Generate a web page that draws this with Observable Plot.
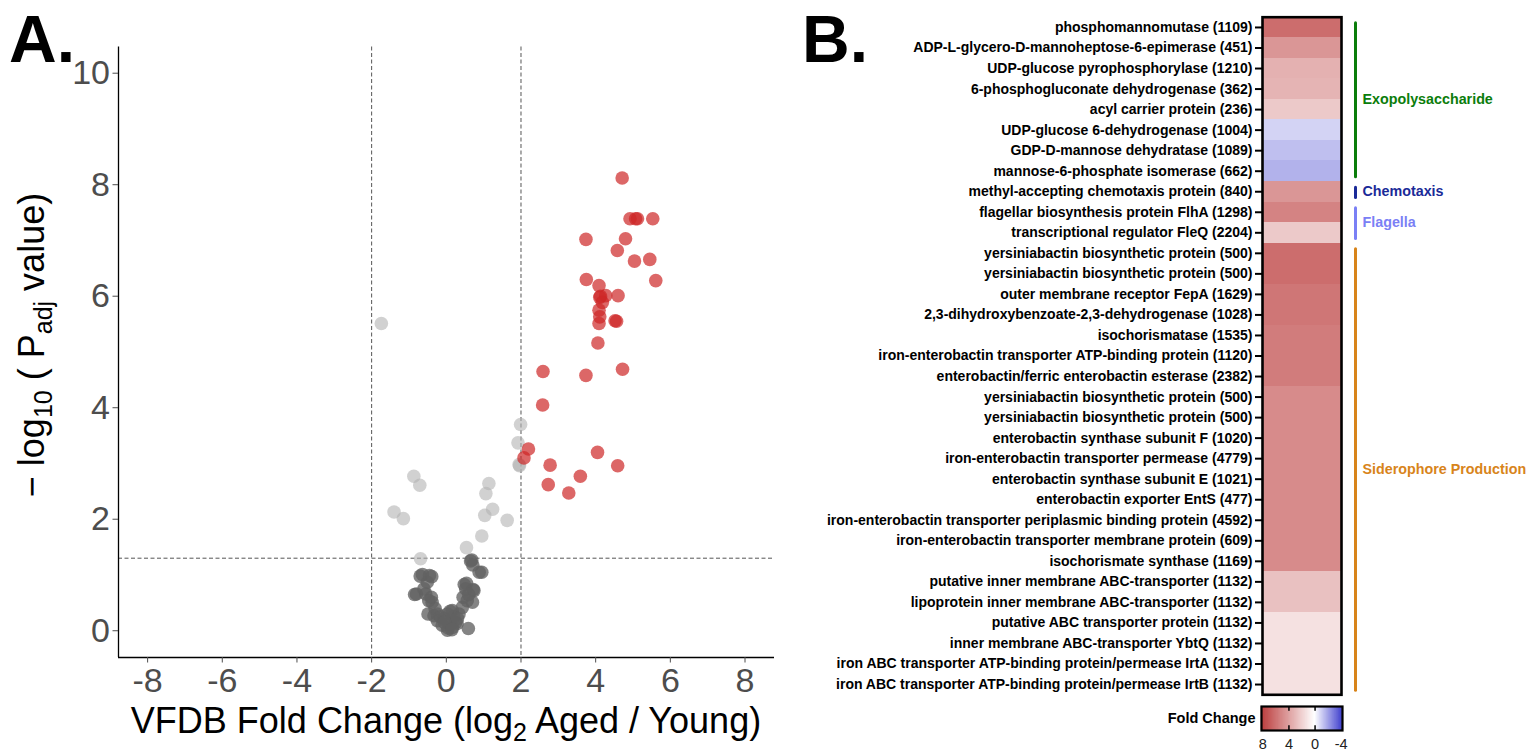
<!DOCTYPE html>
<html><head><meta charset="utf-8">
<script src="https://cdn.jsdelivr.net/npm/d3@7"></script>
<script src="https://cdn.jsdelivr.net/npm/@observablehq/plot@0.6"></script>
<style>
body{margin:0;background:#fff;font-family:"Liberation Sans",Arial,Helvetica,sans-serif;}
#fig{position:relative;width:1531px;height:753px;overflow:hidden;background:#fff;}
#fig > svg, #fig > div{position:absolute;}
</style></head><body><div id="fig"></div>
<script>
// ---------- Panel A data: volcano (log2 fold change, -log10 padj) ----------
const upX  = [4.71,4.92,5.07,5.12,5.53,3.74,4.80,4.58,5.04,5.45,3.75,4.09,5.61,4.27,4.11,4.13,4.18,4.60,4.09,4.11,4.09,4.52,4.56,4.06,2.59,3.74,4.72,2.58,2.20,2.08,4.05,2.78,4.59,3.59,2.73,3.28];
const upY  = [8.12,7.39,7.39,7.39,7.39,7.02,7.03,6.82,6.63,6.66,6.30,6.19,6.28,6.01,5.98,6.00,5.89,6.01,5.75,5.63,5.51,5.56,5.55,5.16,4.65,4.58,4.69,4.05,3.26,3.10,3.20,2.97,2.96,2.77,2.62,2.47];
const sigX = [-1.74,1.99,1.92,1.96,1.95,-0.87,-0.71,1.14,1.06,-1.40,-1.15,-0.69,1.24,1.03,1.63,0.95,0.54];
const sigY = [5.51,3.70,3.37,2.96,2.98,2.77,2.61,2.64,2.46,2.13,2.01,1.29,2.18,2.07,1.98,1.70,1.49];
const nsX  = [0.68,0.71,0.95,-0.64,-0.39,-0.51,-0.80,-0.55,-0.47,-0.38,-0.49,-0.33,-0.24,-0.11,0.03,0.16,0.25,0.16,0.34,0.43,0.56,0.54,0.74,0.70,0.59,0.52,0.29,0.03,-0.06,-0.24,-0.85,-0.70,-0.45,0.48,0.72,0.88,0.65,-0.30,-0.15,0.05,0.10,0.20,-0.40,0.45,0.60,-0.60,0.10,0.30,-0.05,0.15];
const nsY  = [1.27,1.18,1.05,1.01,0.97,0.87,0.66,0.66,0.54,0.51,0.30,0.27,0.18,0.10,0.01,0.06,0.15,0.36,0.30,0.42,0.54,0.85,0.72,0.51,0.04,0.75,0.13,0.30,0.22,0.30,0.65,0.98,0.99,0.83,0.74,1.05,1.25,0.40,0.25,0.05,0.12,0.25,0.60,0.60,0.65,0.75,0.35,0.22,0.15,0.02];
const fcThreshold = 2;
const padjThreshold = 0.05;
const xTicksA = [-8,-6,-4,-2,0,2,4,6,8];
const yTicksA = [0,2,4,6,8,10];

// ---------- Panel B data: heatmap ----------
const geneLabels = [
  "phosphomannomutase (1109)",
  "ADP-L-glycero-D-mannoheptose-6-epimerase (451)",
  "UDP-glucose pyrophosphorylase (1210)",
  "6-phosphogluconate dehydrogenase (362)",
  "acyl carrier protein (236)",
  "UDP-glucose 6-dehydrogenase (1004)",
  "GDP-D-mannose dehydratase (1089)",
  "mannose-6-phosphate isomerase (662)",
  "methyl-accepting chemotaxis protein (840)",
  "flagellar biosynthesis protein FlhA (1298)",
  "transcriptional regulator FleQ (2204)",
  "yersiniabactin biosynthetic protein (500)",
  "yersiniabactin biosynthetic protein (500)",
  "outer membrane receptor FepA (1629)",
  "2,3-dihydroxybenzoate-2,3-dehydrogenase (1028)",
  "isochorismatase (1535)",
  "iron-enterobactin transporter ATP-binding protein (1120)",
  "enterobactin/ferric enterobactin esterase (2382)",
  "yersiniabactin biosynthetic protein (500)",
  "yersiniabactin biosynthetic protein (500)",
  "enterobactin synthase subunit F (1020)",
  "iron-enterobactin transporter permease (4779)",
  "enterobactin synthase subunit E (1021)",
  "enterobactin exporter EntS (477)",
  "iron-enterobactin transporter periplasmic binding protein (4592)",
  "iron-enterobactin transporter membrane protein (609)",
  "isochorismate synthase (1169)",
  "putative inner membrane ABC-transporter (1132)",
  "lipoprotein inner membrane ABC-transporter (1132)",
  "putative ABC transporter protein (1132)",
  "inner membrane ABC-transporter YbtQ (1132)",
  "iron ABC transporter ATP-binding protein/permease IrtA (1132)",
  "iron ABC transporter ATP-binding protein/permease IrtB (1132)"
];
const geneFC = [5.4,3.9,2.9,2.8,2.0,-0.85,-1.25,-1.5,3.9,4.6,2.0,5.4,5.4,5.1,5.1,4.85,4.85,4.85,4.3,4.3,4.3,4.3,4.3,4.3,4.3,4.3,4.3,2.3,2.3,1.1,1.1,1.1,1.1];
const groupNames  = ["Exopolysaccharide","Chemotaxis","Flagella","Siderophore Production"];
const groupFirst  = [0,8,9,11];
const groupLast   = [7,8,10,32];
const groupColors = ["#0b7d0b","#1a2a98","#7a80f5","#d8841a"];
const legendTicks = [8,4,0,-4];
const legendLimits = [-4.2, 8.2];

// ---------- shared ----------
const FONT = '"Liberation Sans", Arial, Helvetica, sans-serif';
const colorCfg = {type:"linear", domain:[legendLimits[0],0,legendLimits[1]], range:["#2828c8","#ffffff","#b22222"], interpolate:"rgb", clamp:true};
const fig = document.getElementById("fig");

// ---------- Panel A ----------
const pts = [
  ...nsX.map((x,i)=>({fc:x, p:nsY[i], g:"ns"})),
  ...sigX.map((x,i)=>({fc:x, p:sigY[i], g:"sig"})),
  ...upX.map((x,i)=>({fc:x, p:upY[i], g:"up"}))
];
const xDomA = [-8.78, 8.79], yDomA = [-0.48, 10.47];
const volcano = Plot.plot({
  width: 790, height: 753,
  marginLeft: 118, marginRight: 16, marginTop: 46.5, marginBottom: 96,
  x: {domain: xDomA}, y: {domain: yDomA},
  style: {fontFamily: FONT, background: "transparent", overflow: "visible"},
  marks: [
    Plot.ruleX([-fcThreshold, fcThreshold], {stroke:"#555", strokeWidth:1, strokeDasharray:"4,2.5"}),
    Plot.ruleY([-Math.log10(padjThreshold)], {stroke:"#555", strokeWidth:1, strokeDasharray:"4,2.5"}),
    Plot.dot(pts.filter(d=>d.g==="ns"), {x:"fc", y:"p", r:6.8, fill:"#626262", fillOpacity:0.78, stroke:null}),
    Plot.dot(pts.filter(d=>d.g==="sig"), {x:"fc", y:"p", r:6.8, fill:"#b3b3b3", fillOpacity:0.6, stroke:null}),
    Plot.dot(pts.filter(d=>d.g==="up"), {x:"fc", y:"p", r:6.8, fill:"#cd2626", fillOpacity:0.7, stroke:null}),
    Plot.ruleX([xDomA[0]], {stroke:"#000", strokeWidth:1.3}),
    Plot.ruleY([yDomA[0]], {stroke:"#000", strokeWidth:1.3}),
    Plot.axisX({ticks: xTicksA, tickFormat: d=>String(d), tickSize:5.5, tickPadding:5, fontSize:34, color:"#4d4d4d", label:null}),
    Plot.axisY({ticks: yTicksA, tickFormat: d=>String(d), tickSize:5.5, tickPadding:3, fontSize:34, color:"#4d4d4d", label:null})
  ]
});
volcano.style.left = "0px"; volcano.style.top = "0px";
fig.appendChild(volcano);

// ---------- Panel B ----------
const rows = geneLabels.map((g,i)=>({i, g, fc: geneFC[i]}));
const groups = groupNames.map((n,k)=>({name:n, first:groupFirst[k], last:groupLast[k], color:groupColors[k]}));
const heat = Plot.plot({
  width: 741, height: 700,
  marginLeft: 472, marginRight: 190, marginTop: 16.7, marginBottom: 5.7,
  x: {domain:[0,1], axis:null},
  y: {domain:[0, geneLabels.length], reverse:true, axis:null},
  color: colorCfg,
  style: {fontFamily: FONT, background: "transparent", overflow: "visible"},
  marks: [
    Plot.rect(rows, {x1:0, x2:1, y1:"i", y2:d=>d.i+1, fill:"fc", shapeRendering:"crispEdges"}),
    Plot.frame({stroke:"#000", strokeWidth:2.6}),
    Plot.axisY({ticks: rows.map(d=>d.i+0.5), tickFormat: d=>geneLabels[Math.floor(d)], tickSize:7, tickPadding:3,
      fontSize:14, fontWeight:"bold", color:"#000", strokeWidth:2, label:null}),
    ...groups.map(g => Plot.ruleX([g], {x:1, y1:d=>d.first+0.3, y2:d=>d.last+1-0.2, dx:14, stroke:g.color, strokeWidth:3, strokeLinecap:"round"})),
    ...groups.map(g => Plot.text([g], {x:1, y:d=>(d.first+d.last+1)/2, text:"name", dx:21, textAnchor:"start", fill:g.color, fontWeight:"bold", fontSize:14.3}))
  ]
});
heat.style.left = "790px"; heat.style.top = "0px";
fig.appendChild(heat);

// ---------- Colour bar legend ----------
const rampStep = 0.05;
const ramp = d3.range(legendLimits[0], legendLimits[1], rampStep);
const legend = Plot.plot({
  width: 260, height: 60,
  marginLeft: 161, marginRight: 18, marginTop: 16, marginBottom: 20,
  x: {domain:[legendLimits[1], legendLimits[0]]},
  y: {domain:[0,1], axis:null},
  color: colorCfg,
  style: {fontFamily: FONT, background: "transparent", overflow: "visible"},
  marks: [
    Plot.rect(ramp, {x1:d=>d, x2:d=>d+rampStep*1.6, y1:0, y2:1, fill:d=>d}),
    Plot.ruleX([4,0], {y1:0, y2:0.2, stroke:"#000", strokeWidth:1.5}),
    Plot.ruleX([4,0], {y1:0.8, y2:1, stroke:"#000", strokeWidth:1.5}),
    Plot.frame({stroke:"#000", strokeWidth:2.2}),
    Plot.axisX({ticks: legendTicks, tickFormat:d=>String(d), tickSize:0, tickPadding:8, fontSize:14.5, color:"#222", label:null}),
    Plot.text(["Fold Change"], {frameAnchor:"left", dx:-6, textAnchor:"end", fontWeight:"bold", fontSize:14.5, fill:"#000"})
  ]
});
legend.style.left = "1100px"; legend.style.top = "690px";
fig.appendChild(legend);

// ---------- Axis titles (with subscripts) and panel letters ----------
const over = d3.create("svg").attr("width",1531).attr("height",753)
  .style("left","0px").style("top","0px").style("pointer-events","none")
  .attr("font-family", FONT);
const xt = over.append("text").attr("x", 446).attr("y", 733).attr("text-anchor","middle")
  .attr("font-size", 36).attr("fill","#000");
xt.append("tspan").text("VFDB Fold Change (log");
xt.append("tspan").attr("font-size", 25).attr("dy", 8).text("2");
xt.append("tspan").attr("dy", -8).text(" Aged / Young)");
const yt = over.append("text").attr("transform","translate(44,345) rotate(-90)").attr("text-anchor","middle")
  .attr("font-size", 36).attr("fill","#000");
yt.append("tspan").text("\u2212 log");
yt.append("tspan").attr("font-size", 25).attr("dy", 8).text("10");
yt.append("tspan").attr("dy", -8).text(" ( P");
yt.append("tspan").attr("font-size", 25).attr("dy", 8).text("adj");
yt.append("tspan").attr("dy", -8).text(" value)");
over.append("text").attr("x", 9).attr("y", 62).attr("font-size", 66).attr("font-weight","bold").attr("fill","#000").text("A.");
over.append("text").attr("x", 802).attr("y", 62).attr("font-size", 66).attr("font-weight","bold").attr("fill","#000").text("B.");
fig.appendChild(over.node());
</script>
</body></html>
